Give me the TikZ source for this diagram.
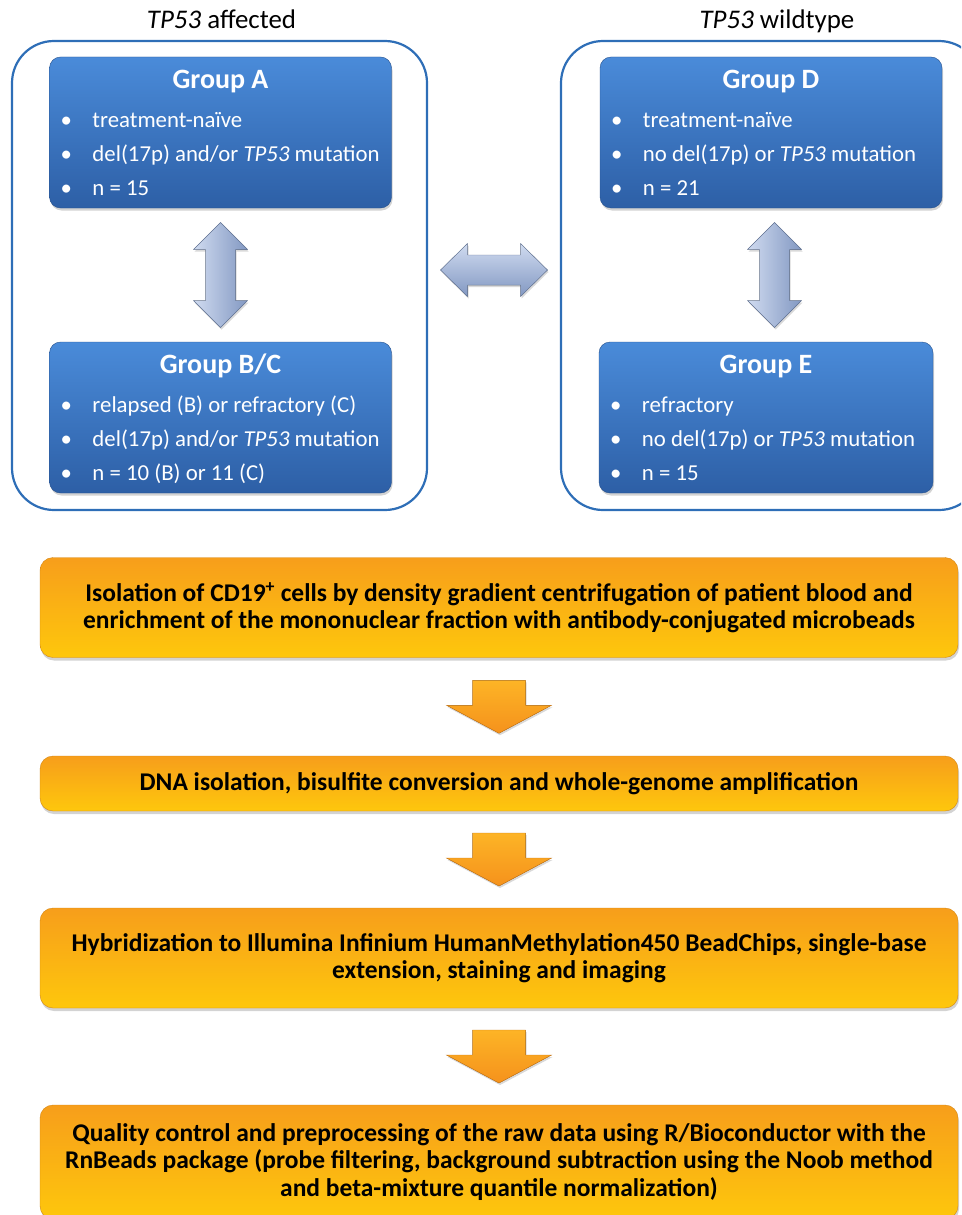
\documentclass[tikz,border=0pt]{standalone}
\usepackage{fontspec}
\setmainfont{Carlito}
\usepackage{xcolor}
\usepackage{tikz}
\usetikzlibrary{positioning, calc, shadows}

\definecolor{grouptop}{RGB}{74,139,217}
\definecolor{groupbot}{RGB}{45,95,166}
\definecolor{frameblue}{RGB}{46,110,183}
\definecolor{steptop}{RGB}{247,158,27}
\definecolor{stepbot}{RGB}{254,199,12}
\definecolor{arrowlight}{RGB}{208,219,240}
\definecolor{arrowdark}{RGB}{130,152,194}
\definecolor{flowtop}{RGB}{253,180,38}
\definecolor{flowbot}{RGB}{245,146,28}

\tikzset{
  groupframe/.style={draw=frameblue, line width=2.2pt, rounded corners=42pt, inner sep=0pt},
  groupbox/.style={rounded corners=11pt, top color=grouptop, bottom color=groupbot,
    draw=groupbot!85!black, line width=0.4pt, minimum width=342pt, minimum height=151pt,
    drop shadow={opacity=0.35, shadow xshift=1pt, shadow yshift=-2.5pt}},
  grouptitle/.style={anchor=base, text=white, inner sep=0pt, font=\fontsize{28}{32}\selectfont\bfseries},
  groupline/.style={anchor=base west, text=white, inner sep=0pt, font=\fontsize{22.8}{26}\selectfont},
  header/.style={anchor=base, inner sep=0pt, font=\fontsize{26.9}{30}\selectfont},
  stepbox/.style={rounded corners=13pt, top color=steptop, bottom color=stepbot,
    draw=steptop!85!black, line width=0.4pt, minimum width=918pt, align=center,
    font=\fontsize{25.5}{27.3}\selectfont\bfseries,
    drop shadow={opacity=0.35, shadow xshift=1pt, shadow yshift=-3pt}},
  blockarrow/.style={draw=arrowdark!80!black, line width=0.4pt,
    drop shadow={opacity=0.3, shadow xshift=1pt, shadow yshift=-2pt}},
  flowarrow/.style={draw=flowbot!85!black, line width=0.4pt, top color=flowtop, bottom color=flowbot,
    drop shadow={opacity=0.3, shadow xshift=1pt, shadow yshift=-2pt}},
  updown/.pic={
    \filldraw[blockarrow, left color=arrowlight, right color=arrowdark]
      (0,-52.5) -- (27,-25.5) -- (15,-25.5) -- (15,25.5) -- (27,25.5) -- (0,52.5)
      -- (-27,25.5) -- (-15,25.5) -- (-15,-25.5) -- (-27,-25.5) -- cycle;
  },
  leftright/.pic={
    \filldraw[blockarrow, top color=arrowlight, bottom color=arrowdark]
      (-53.5,0) -- (-26.5,-26.5) -- (-26.5,-15) -- (26.5,-15) -- (26.5,-26.5) -- (53.5,0)
      -- (26.5,26.5) -- (26.5,15) -- (-26.5,15) -- (-26.5,26.5) -- cycle;
  },
  downflow/.pic={
    \filldraw[flowarrow]
      (-26.5,-26.5) -- (26.5,-26.5) -- (26.5,-1.5) -- (52.5,-1.5) -- (0,26.5)
      -- (-52.5,-1.5) -- (-26.5,-1.5) -- cycle;
  }
}

\begin{document}
\begin{tikzpicture}[x=1pt, y=-1pt]
  \useasboundingbox (0,0) rectangle (961,1215);
  \clip (0,0) rectangle (961,1215);

  % Frames
  \node[header] (hdrL) at (221.5,29) {\textit{TP53} affected};
  \node[header] (hdrR) at (777,29) {\textit{TP53} wildtype};
  \node[groupframe, minimum width=415pt, minimum height=469pt] (frameL) at (219.5,275.5) {};
  \node[groupframe, minimum width=420pt, minimum height=469pt] (frameR) at (771,275.5) {};

  % Group boxes
  \node[groupbox] (grpA) at (220.5,132.5) {};
  \node[groupbox] (grpBC) at (220.5,417.5) {};
  \node[groupbox] (grpD) at (771,132.5) {};
  \node[groupbox, minimum width=334pt] (grpE) at (766,417.5) {};

  \foreach \g/\name in {grpA/Group A, grpBC/Group B\slash C, grpD/Group D, grpE/Group E} {
    \node[grouptitle] (\g-title) at ([yshift=-32pt]\g.north) {\name};
  }

  \foreach \i/\t in {1/treatment-naïve, 2/{del(17p) and/or \textit{TP53} mutation}, 3/n = 15}
    \node[groupline] (grpA-\i) at ([xshift=11pt, yshift={-36.5pt-34pt*\i}]grpA.north west) {\makebox[32pt][l]{\textbullet}\t};
  \foreach \i/\t in {1/relapsed (B) or refractory (C), 2/{del(17p) and/or \textit{TP53} mutation}, 3/n = 10 (B) or 11 (C)}
    \node[groupline] (grpBC-\i) at ([xshift=11pt, yshift={-36.5pt-34pt*\i}]grpBC.north west) {\makebox[32pt][l]{\textbullet}\t};
  \foreach \i/\t in {1/treatment-naïve, 2/no del(17p) or \textit{TP53} mutation, 3/n = 21}
    \node[groupline] (grpD-\i) at ([xshift=11pt, yshift={-36.5pt-34pt*\i}]grpD.north west) {\makebox[32pt][l]{\textbullet}\t};
  \foreach \i/\t in {1/refractory, 2/no del(17p) or \textit{TP53} mutation, 3/n = 15}
    \node[groupline] (grpE-\i) at ([xshift=11pt, yshift={-36.5pt-34pt*\i}]grpE.north west) {\makebox[32pt][l]{\textbullet}\t};

  % Comparisons
  \pic at ($(grpA.south)!0.5!(grpBC.north)$) {updown};
  \pic at ([xshift=6pt]$(grpD.south)!0.5!(grpE.north)$) {updown};
  \pic at ([yshift=5.5pt]$(frameL.east)!0.5!(frameR.west)$) {leftright};

  % Workflow
  \node[stepbox, minimum height=100pt] (iso) at (499,607.5)
    {Isolation of CD19\textsuperscript{+} cells by density gradient centrifugation of patient blood and\\
     enrichment of the mononuclear fraction with antibody-conjugated microbeads};
  \node[stepbox, minimum height=55pt] (dna) at (499,783.5)
    {DNA isolation, bisulfite conversion and whole-genome amplification};
  \node[stepbox, minimum height=100pt] (hyb) at (499,958)
    {Hybridization to Illumina Infinium HumanMethylation450 BeadChips, single-base\\
     extension, staining and imaging};
  \node[stepbox, minimum height=114pt] (qc) at (499,1162)
    {Quality control and preprocessing of the raw data using R/Bioconductor with the\\
     RnBeads package (probe filtering, background subtraction using the Noob method\\
     and beta-mixture quantile normalization)};

  \pic at ($(iso.south)!0.5!(dna.north)$) {downflow};
  \pic at ($(dna.south)!0.5!(hyb.north)$) {downflow};
  \pic at ($(hyb.south)!0.5!(qc.north)$) {downflow};
\end{tikzpicture}
\end{document}
